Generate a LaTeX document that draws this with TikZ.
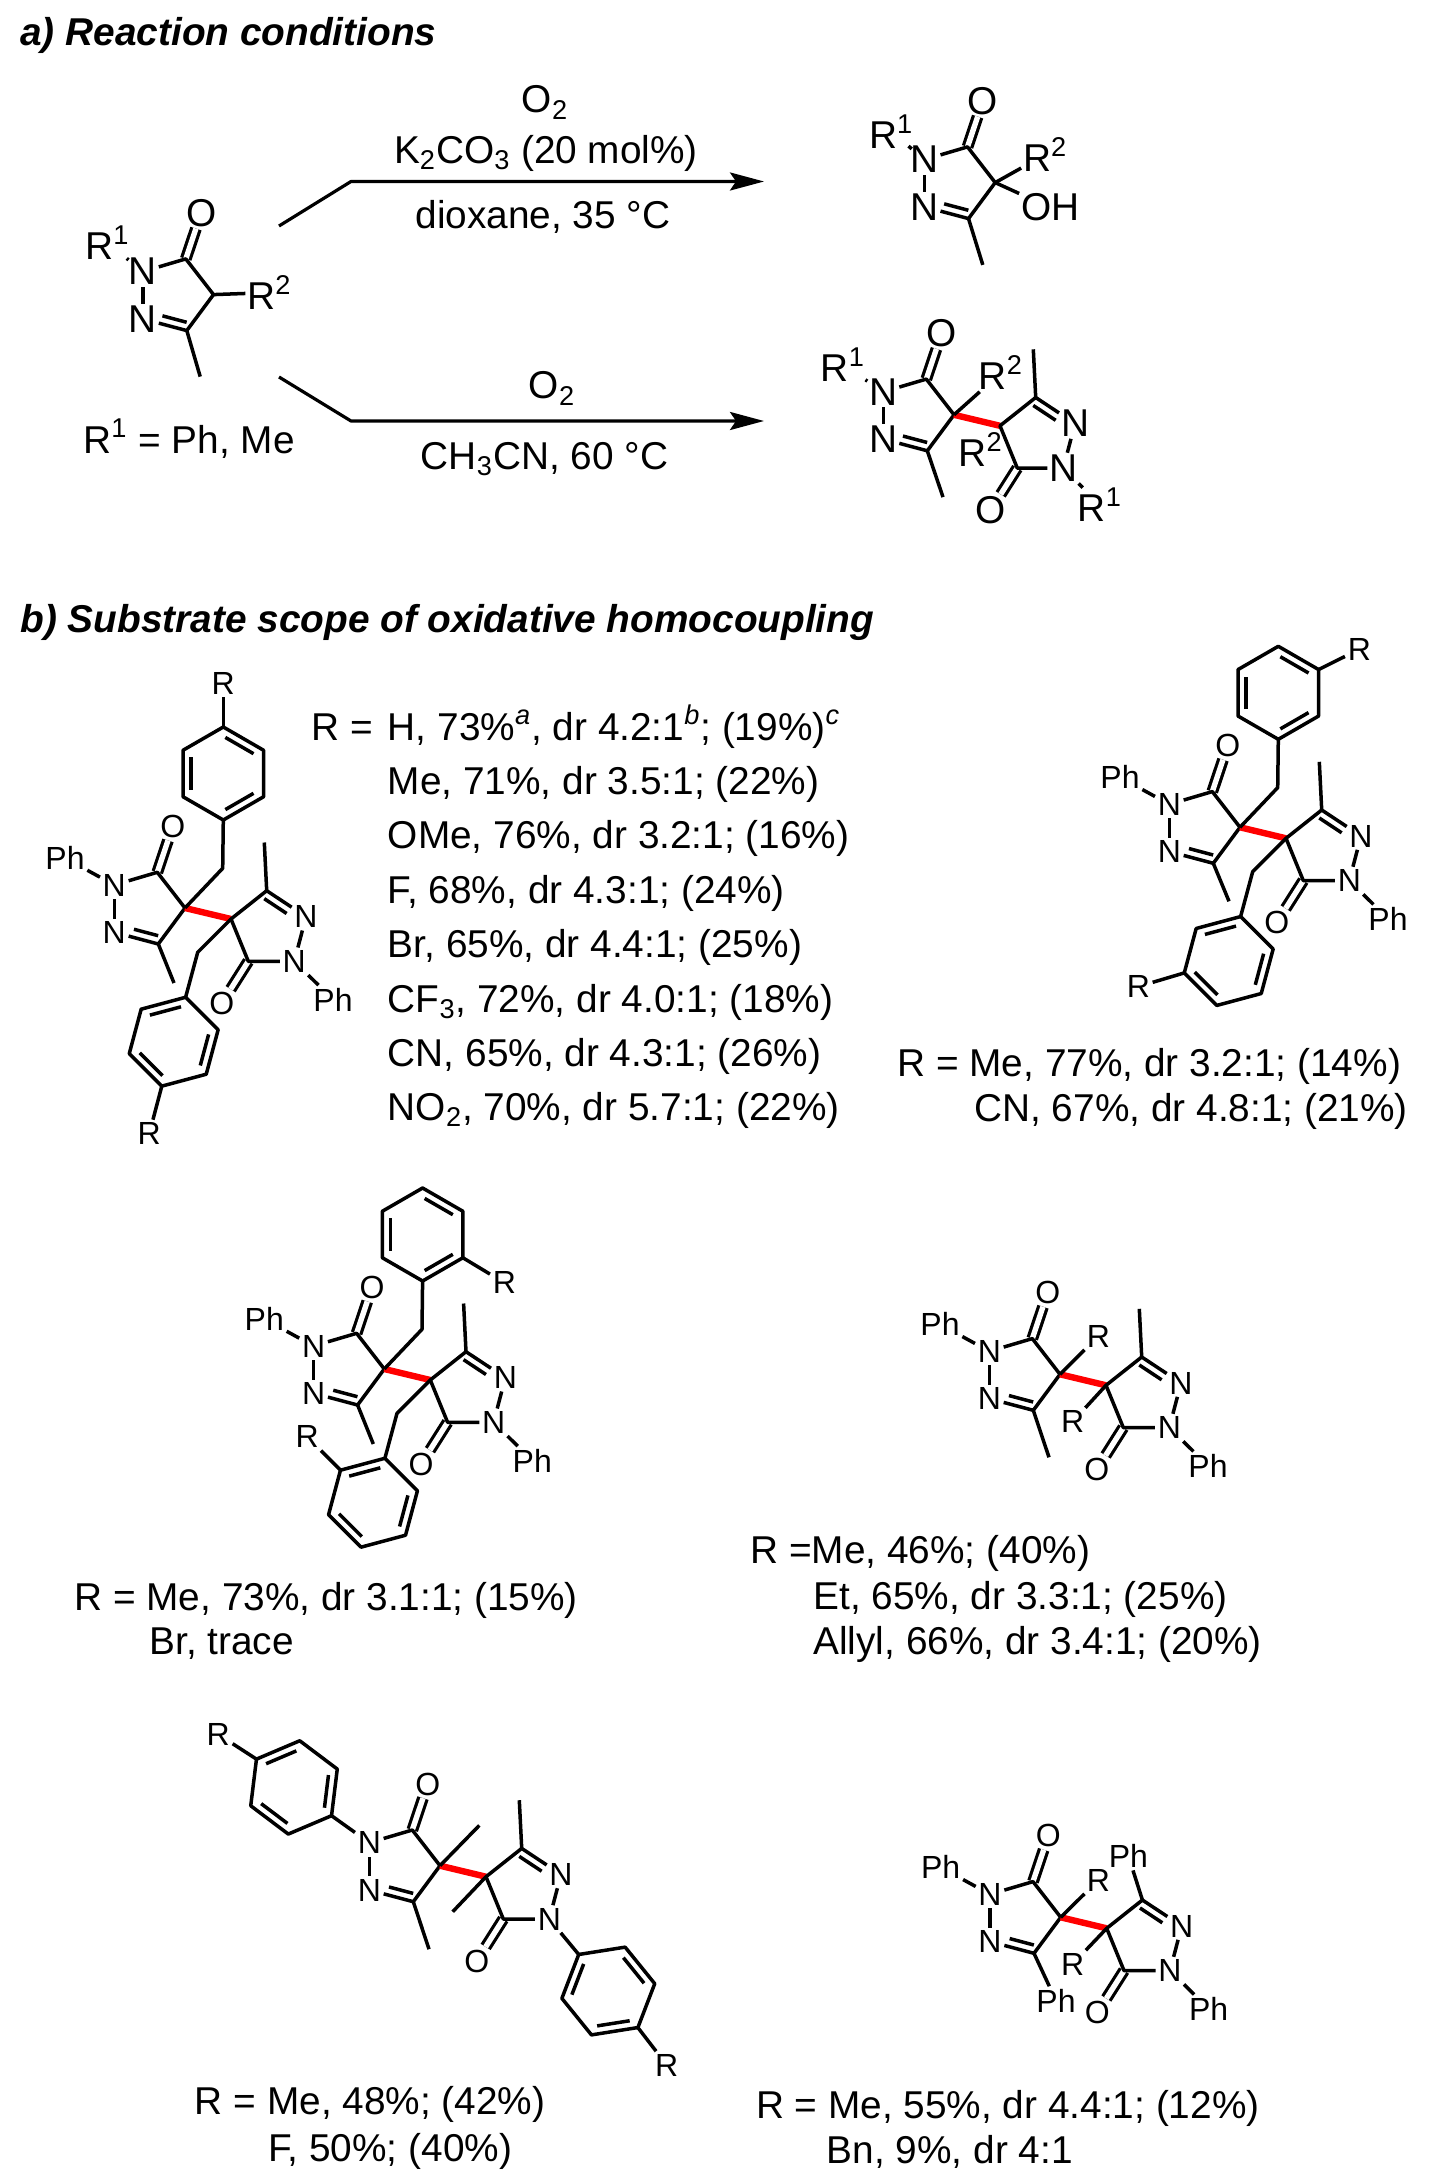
\documentclass[tikz,border=0pt]{standalone}
\usepackage{fontspec}
\setmainfont{Liberation Sans}
\usetikzlibrary{arrows.meta,calc}

\tikzset{
  bond/.style={line width=1.75pt,line join=round},
  cobond/.style={line width=1.6pt,double,double distance=2.7pt},
  redbond/.style={line width=3.2pt,color=red},
  react/.style={line width=1.6pt,line join=round,-{Stealth[length=17pt,width=9pt,inset=3pt]}},
  atom/.style={inner sep=1.2pt,font=\fontsize{16}{18}\selectfont},
  bigatom/.style={inner sep=0.8pt,font=\fontsize{19.4}{22}\selectfont},
  label/.style={inner sep=0pt,anchor=base west,font=\fontsize{19.4}{22}\selectfont},
  labelc/.style={label,anchor=base},
  title/.style={inner sep=0pt,anchor=base west,font=\fontsize{19.4}{23}\selectfont\bfseries\itshape},
}

% inner line of a double bond
\newcommand{\inbond}[4]{\draw[bond] ($(#1)!#3!(#2)!4pt!-90:(#2)$) -- ($(#1)!#4!(#2)!4pt!-90:(#2)$);}

% ring around the quaternary carbon at (0,0)
\newcommand{\leftring}[1]{%
  \coordinate (#1c4) at (0,0);
  \coordinate (#1c5) at (-27.7,-35.7);
  \coordinate (#1c3) at (-26.7,36);
  \node[atom] (#1o) at (-12.3,-81.7) {O};
  \node[atom] (#1na) at (-70.7,-23) {N};
  \node[atom] (#1nb) at (-70.7,24.3) {N};
  \draw[cobond] (#1c5) -- (#1o);
  \draw[bond] (#1nb) -- (#1na);
  \draw[bond] (#1na) -- (#1c5) -- (#1c4) -- (#1c3) -- (#1nb);
  \inbond{#1c3}{#1nb}{.05}{.6}
}

% second ring, joined by the red bond
\newcommand{\rightring}[1]{%
  \coordinate (#1d4) at (46,11);
  \coordinate (#1d3) at (81.7,-17.3);
  \coordinate (#1d5) at (63.3,53.3);
  \node[atom] (#1p) at (36.7,95.3) {O};
  \node[atom] (#1nc) at (121,8.7) {N};
  \node[atom] (#1nd) at (109.3,53.3) {N};
  \draw[redbond] (#1c4) -- (#1d4);
  \draw[cobond] (#1d5) -- (#1p);
  \draw[bond] (#1nc) -- (#1nd);
  \draw[bond] (#1nd) -- (#1d5) -- (#1d4) -- (#1d3) -- (#1nc);
  \inbond{#1d3}{#1nc}{.05}{.62}
}

% methyls on both rings
\newcommand{\methyls}[2]{%
  \coordinate (#1mea) at (-11,#2);
  \coordinate (#1meb) at (79.3,-65.5);
  \draw[bond] (#1c3) -- (#1mea);
  \draw[bond] (#1d3) -- (#1meb);
}

% the two N-phenyl labels
\newcommand{\nphenyls}[1]{%
  \node[atom] (#1pha) at (-120,-50) {Ph};
  \node[atom] (#1phb) at (148,91.5) {Ph};
  \draw[bond] (#1pha) -- (#1na);
  \draw[bond] (#1phb) -- (#1nd);
}

% benzene ring: name, centre, angle of first vertex, radius
\newcommand{\arene}[4]{%
  \foreach \i in {1,...,6} {\coordinate (#1\i) at ($(#2)+({#3+60*(\i-1)}:#4)$);}
  \draw[bond] (#11) -- (#12) -- (#13) -- (#14) -- (#15) -- (#16) -- cycle;
  \inbond{#12}{#13}{.15}{.85}
  \inbond{#14}{#15}{.15}{.85}
  \inbond{#16}{#11}{.15}{.85}
}

% two benzyl groups on the quaternary carbons
\newcommand{\benzyls}[1]{%
  \coordinate (#1cha) at (37.7,-39.7);
  \coordinate (#1chb) at (12.7,44.3);
  \arene{#1u}{38.3,-134.5}{90}{46.5}
  \arene{#1v}{-11.3,133.7}{-75}{46}
  \draw[bond] (#1c4) -- (#1cha) -- (#1u1);
  \draw[bond] (#1d4) -- (#1chb) -- (#1v1);
}

\begin{document}
\begin{tikzpicture}[x=0.5pt,y=-0.5pt]
\useasboundingbox (0,0) rectangle (1439,2177);

\node[title] (heada) at (20,46) {a) Reaction conditions};
\node[title] (headb) at (20,632) {b) Substrate scope of oxidative homocoupling};

% starting material
\begin{scope}[shift={(213.5,294.6)},atom/.style={bigatom}]
  \leftring{s}
  \coordinate (smea) at (-13.3,82);
  \draw[bond] (sc3) -- (smea);
  \node[atom,inner sep=0pt] (sra) at (-106,-52) {R\textsuperscript{1}};
  \node[atom] (srb) at (56,-2) {R\textsuperscript{2}};
  \draw[bond] (sra) -- (sna);
  \draw[bond] (sc4) -- (srb);
\end{scope}
\node[labelc] (sdef) at (189,453) {R\textsuperscript{1} = Ph, Me};

% arrows
\coordinate (upa) at (279,226);
\coordinate (upb) at (351,181.5);
\coordinate (upc) at (764,181.5);
\draw[react] (upa) -- (upb) -- (upc);
\coordinate (loa) at (279,377);
\coordinate (lob) at (351,421);
\coordinate (loc) at (764,421);
\draw[react] (loa) -- (lob) -- (loc);
\node[labelc] (upo) at (545,113) {O\textsubscript{2}};
\node[labelc] (upk) at (546,163.6) {K\textsubscript{2}CO\textsubscript{3} (20 mol\%)};
\node[labelc] (upd) at (543,228.6) {dioxane, 35 °C};
\node[labelc] (loo) at (552,399) {O\textsubscript{2}};
\node[labelc] (lom) at (544.5,469.6) {CH\textsubscript{3}CN, 60 °C};

% hydroxylated product
\begin{scope}[shift={(995.2,182.6)},atom/.style={bigatom}]
  \leftring{h}
  \coordinate (hmea) at (-12.4,82.3);
  \draw[bond] (hc3) -- (hmea);
  \node[atom,inner sep=0pt] (hra) at (-104,-51) {R\textsuperscript{1}};
  \node[atom] (hrb) at (50,-28) {R\textsuperscript{2}};
  \node[atom] (hoh) at (55,25) {OH};
  \draw[bond] (hra) -- (hna);
  \draw[bond] (hc4) -- (hrb);
  \draw[bond] (hc4) -- (hoh);
\end{scope}

% homocoupling product
\begin{scope}[shift={(954,414.8)},atom/.style={bigatom}]
  \leftring{k}
  \rightring{k}
  \methyls{k}{82.3}
  \node[atom,inner sep=0pt] (kra) at (-111,-50) {R\textsuperscript{1}};
  \node[atom,inner sep=0pt] (krb) at (146,90) {R\textsuperscript{1}};
  \node[atom] (krc) at (47,-42) {R\textsuperscript{2}};
  \node[atom] (krd) at (26.6,34.8) {R\textsuperscript{2}};
  \draw[bond] (kra) -- (kna);
  \draw[bond] (krb) -- (knd);
  \draw[bond] (kc4) -- (krc);
\end{scope}

% para benzyl
\begin{scope}[shift={(185,908)}]
  \leftring{p}
  \rightring{p}
  \methyls{p}{75}
  \nphenyls{p}
  \benzyls{p}
  \node[atom] (pra) at (38.3,-225) {R};
  \node[atom] (prb) at (-35.7,225.5) {R};
  \draw[bond] (pu4) -- (pra);
  \draw[bond] (pv4) -- (prb);
\end{scope}
\node[label] (plist) at (311,740) {R =};
\foreach \i/\y/\txt in {
  1/740/{H, 73\%\textsuperscript{\itshape a}, dr 4.2:1\textsuperscript{\itshape b}; (19\%)\textsuperscript{\itshape c}},
  2/794/{Me, 71\%, dr 3.5:1; (22\%)},
  3/848/{OMe, 76\%, dr 3.2:1; (16\%)},
  4/903/{F, 68\%, dr 4.3:1; (24\%)},
  5/957/{Br, 65\%, dr 4.4:1; (25\%)},
  6/1012/{CF\textsubscript{3}, 72\%, dr 4.0:1; (18\%)},
  7/1066/{CN, 65\%, dr 4.3:1; (26\%)},
  8/1120/{NO\textsubscript{2}, 70\%, dr 5.7:1; (22\%)}}
  {\node[label] (pline\i) at (387.5,\y) {\txt};}

% meta benzyl
\begin{scope}[shift={(1240,827.3)}]
  \leftring{m}
  \rightring{m}
  \methyls{m}{74}
  \nphenyls{m}
  \benzyls{m}
  \node[atom] (mra) at (119.3,-178) {R};
  \node[atom] (mrb) at (-101.7,159.3) {R};
  \draw[bond] (mu5) -- (mra);
  \draw[bond] (mv5) -- (mrb);
\end{scope}
\node[label] (mlist) at (897,1076.7) {R = Me, 77\%, dr 3.2:1; (14\%)};
\node[label] (mline) at (974,1121.7) {CN, 67\%, dr 4.8:1; (21\%)};

% ortho benzyl
\begin{scope}[shift={(384.3,1369)}]
  \leftring{o}
  \rightring{o}
  \methyls{o}{75}
  \nphenyls{o}
  \benzyls{o}
  \node[atom] (ora) at (120,-86.3) {R};
  \node[atom] (orb) at (-77,67.7) {R};
  \draw[bond] (ou6) -- (ora);
  \draw[bond] (ov6) -- (orb);
\end{scope}
\node[label] (olist) at (74,1610) {R = Me, 73\%, dr 3.1:1; (15\%)};
\node[label] (oline) at (149,1654) {Br, trace};

% alkyl
\begin{scope}[shift={(1060,1374.3)}]
  \leftring{a}
  \rightring{a}
  \methyls{a}{83}
  \nphenyls{a}
  \node[atom] (ara) at (38.3,-38.3) {R};
  \node[atom] (arb) at (12.7,47.3) {R};
  \draw[bond] (ac4) -- (ara);
  \draw[bond] (ad4) -- (arb);
\end{scope}
\node[label] (alist) at (750,1563) {R =Me, 46\%; (40\%)};
\node[label] (aline) at (813,1609) {Et, 65\%, dr 3.3:1; (25\%)};
\node[label] (aliny) at (813,1654) {Allyl, 66\%, dr 3.4:1; (20\%)};

% N-aryl
\begin{scope}[shift={(440,1865.7)}]
  \leftring{n}
  \rightring{n}
  \methyls{n}{83.5}
  \coordinate (nrc) at (39.3,-40.3);
  \coordinate (nrd) at (12.7,46);
  \draw[bond] (nc4) -- (nrc);
  \draw[bond] (nd4) -- (nrd);
  \arene{nu}{-146,-78.3}{37}{47}
  \arene{nv}{168.3,125.3}{231}{47}
  \draw[bond] (nna) -- (nu1);
  \draw[bond] (nnd) -- (nv1);
  \node[atom] (nra) at (-221.7,-131.3) {R};
  \node[atom] (nrb) at (226.7,199.3) {R};
  \draw[bond] (nu4) -- (nra);
  \draw[bond] (nv4) -- (nrb);
\end{scope}
\node[label] (nlist) at (194.5,2114) {R = Me, 48\%; (42\%)};
\node[label] (nline) at (268,2161) {F, 50\%; (40\%)};

% C-phenyl
\begin{scope}[shift={(1060.7,1917.3)}]
  \leftring{c}
  \rightring{c}
  \nphenyls{c}
  \node[atom] (cra) at (37.7,-37.3) {R};
  \node[atom] (crb) at (12,46.7) {R};
  \node[atom] (cpc) at (-4.7,83.3) {Ph};
  \node[atom] (cpd) at (67.7,-61.3) {Ph};
  \draw[bond] (cc4) -- (cra);
  \draw[bond] (cd4) -- (crb);
  \draw[bond] (cc3) -- (cpc);
  \draw[bond] (cd3) -- (cpd);
\end{scope}
\node[label] (clist) at (755.6,2118) {R = Me, 55\%, dr 4.4:1; (12\%)};
\node[label] (cline) at (826.5,2163) {Bn, 9\%, dr 4:1};
\end{tikzpicture}
\end{document}
